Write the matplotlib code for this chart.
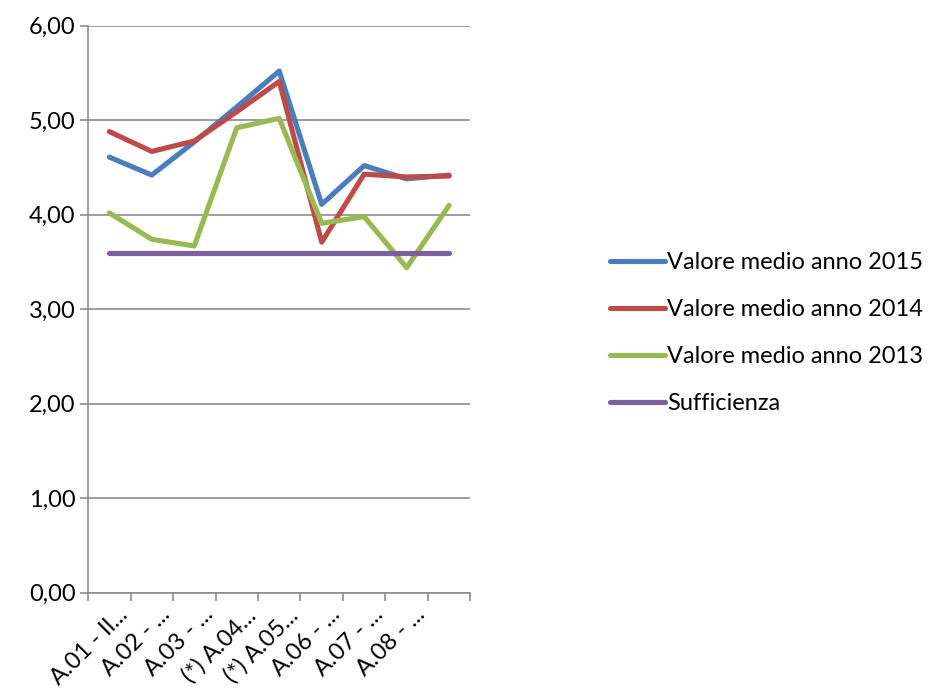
import matplotlib.pyplot as plt
import numpy as np
from matplotlib.ticker import FuncFormatter
from matplotlib.transforms import ScaledTranslation

categorie = ["A.01 - Il...", "A.02 - ...", "A.03 - ...", "(*) A.04...", "(*) A.05...",
             "A.06 - ...", "A.07 - ...", "A.08 - ...", ""]
valori_2015 = [4.61, 4.42, 4.77, 5.14, 5.52, 4.11, 4.52, 4.38, 4.42]
valori_2014 = [4.88, 4.67, 4.78, 5.09, 5.41, 3.71, 4.43, 4.40, 4.41]
valori_2013 = [4.02, 3.74, 3.67, 4.92, 5.02, 3.91, 3.98, 3.44, 4.10]
sufficienza = [3.60] * 9

plt.rcParams['font.family'] = ['Lato', 'DejaVu Sans']

fig = plt.figure(figsize=(9.37, 6.95), dpi=100)
ax = fig.add_axes([0.094, 0.147, 0.408, 0.816])

x = np.arange(len(categorie))
lw = 3.7
ax.plot(x, valori_2015, color="#4A7EBB", lw=lw, label="Valore medio anno 2015", solid_capstyle="round")
ax.plot(x, valori_2014, color="#BE4B48", lw=lw, label="Valore medio anno 2014", solid_capstyle="round")
ax.plot(x, valori_2013, color="#98B954", lw=lw, label="Valore medio anno 2013", solid_capstyle="round")
ax.plot(x, sufficienza, color="#7D60A0", lw=lw, label="Sufficienza", solid_capstyle="round")

ax.set_xlim(-0.5, len(categorie) - 0.5)
ax.set_ylim(0, 6)
ax.set_yticks(np.arange(0, 7, 1))
ax.yaxis.set_major_formatter(FuncFormatter(lambda v, p: f"{v:.2f}".replace(".", ",")))
ax.grid(axis="y", color="#8C8C8C", lw=1.2)
ax.set_axisbelow(True)

ax.set_xticks(x)
ax.set_xticklabels(categorie, rotation=45, ha="right", rotation_mode="anchor")
ax.set_xticks(np.arange(-0.5, len(categorie)), minor=True)
ax.tick_params(axis="x", which="major", length=0, pad=8, labelsize=17)
ax.tick_params(axis="x", which="minor", length=6, color="#8C8C8C", width=1.2)
ax.tick_params(axis="y", length=6, color="#8C8C8C", width=1.2, labelsize=17, pad=3)
shift = ScaledTranslation(8 / 100, 0, fig.dpi_scale_trans)
for lab in ax.get_xticklabels():
    lab.set_transform(lab.get_transform() + shift)

for s in ["top", "right"]:
    ax.spines[s].set_visible(False)
for s in ["left", "bottom"]:
    ax.spines[s].set_color("#8C8C8C")
    ax.spines[s].set_linewidth(1.2)

ax.legend(loc="center left", bbox_to_anchor=(1.366, 0.458), frameon=False, fontsize=17,
          handlelength=2.3, handletextpad=0.1, labelspacing=1.1, borderaxespad=0,
          borderpad=0)

fig.savefig("out.png", dpi=100)
